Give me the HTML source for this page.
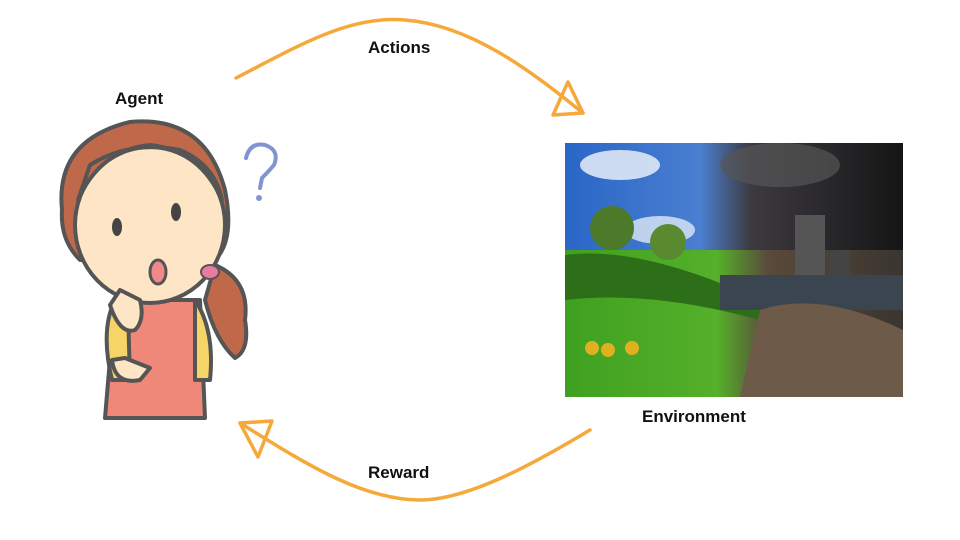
<!DOCTYPE html>
<html><head><meta charset="utf-8"><style>
html,body{margin:0;padding:0;background:#fff;width:960px;height:540px;overflow:hidden;position:relative;font-family:"Liberation Sans",sans-serif}
.l{position:absolute;font-weight:bold;font-size:17px;color:#111}
</style></head><body>
<svg width="960" height="540" style="position:absolute;left:0;top:0">
<defs>
<linearGradient id="sky" x1="0" y1="0" x2="1" y2="0"><stop offset="0" stop-color="#2a66c8"/><stop offset="0.4" stop-color="#4a7fd0"/><stop offset="0.55" stop-color="#3d3a40"/><stop offset="1" stop-color="#151515"/></linearGradient>
<linearGradient id="gnd" x1="0" y1="0" x2="1" y2="0"><stop offset="0" stop-color="#3fa020"/><stop offset="0.45" stop-color="#55b02a"/><stop offset="0.6" stop-color="#5a4a3a"/><stop offset="1" stop-color="#3a3530"/></linearGradient>
</defs>
<!-- environment image -->
<rect x="565" y="143" width="338" height="254" fill="url(#sky)"/>
<ellipse cx="620" cy="165" rx="40" ry="15" fill="#e8eef8" opacity="0.85"/>
<ellipse cx="660" cy="230" rx="35" ry="14" fill="#dfe8f5" opacity="0.8"/>
<ellipse cx="780" cy="165" rx="60" ry="22" fill="#555" opacity="0.7"/>
<rect x="565" y="250" width="338" height="147" fill="url(#gnd)"/>
<path d="M565 255 Q640 245 760 300 L760 320 Q650 290 565 300Z" fill="#2d6e18"/>
<rect x="795" y="215" width="30" height="60" fill="#555"/>
<rect x="830" y="250" width="20" height="25" fill="#444"/>
<rect x="720" y="275" width="183" height="35" fill="#3a4550"/>
<path d="M760 310 Q820 290 903 330 L903 397 L740 397Z" fill="#6e5a48"/>
<circle cx="612" cy="228" r="22" fill="#4c7a2a"/><circle cx="668" cy="242" r="18" fill="#5a8a30"/>
<circle cx="592" cy="348" r="7" fill="#e0b020"/><circle cx="608" cy="350" r="7" fill="#e0b020"/><circle cx="632" cy="348" r="7" fill="#e0b020"/>
<!-- arrows -->
<g fill="none" stroke="#f5a93a" stroke-width="3.5" stroke-linecap="round" stroke-linejoin="round">
<path d="M236 78 C300 45 350 15 405 20 C470 25 530 70 583 113"/>
<path d="M568 82 L583 113 L553 115 Z"/>
<path d="M590 430 C540 460 470 500 420 500 C360 500 300 460 240 423"/>
<path d="M240 423 L272 421 L258 457 Z"/>
</g>
<!-- agent -->
<g stroke="#555" stroke-width="4" stroke-linejoin="round">
<path d="M115 300 L105 418 L205 418 L200 300 Z" fill="#f0887a"/>
<path d="M115 300 Q100 330 112 380 L130 380 L128 310Z" fill="#f7d468"/>
<path d="M195 300 Q215 330 210 380 L195 380 Z" fill="#f7d468"/>
<path d="M215 265 Q250 280 245 320 Q250 350 235 358 Q215 340 205 300 Z" fill="#c0694a"/>
<path d="M62 210 Q55 140 130 122 Q205 115 225 190 Q235 240 215 260 L80 260 Q60 240 62 210 Z" fill="#c0694a"/>
<ellipse cx="150" cy="225" rx="75" ry="78" fill="#fde5c5"/>
<path d="M78 200 Q100 150 150 145 Q200 150 222 200 Q215 165 180 150 Q130 140 90 165 Z" fill="#c0694a"/>
<path d="M120 290 L110 305 Q120 335 135 330 Q145 320 140 300 Z" fill="#fde5c5"/>
<path d="M112 360 Q115 385 140 380 L150 368 L125 358 Z" fill="#fde5c5"/>
</g>
<ellipse cx="117" cy="227" rx="5" ry="9" fill="#444"/><ellipse cx="176" cy="212" rx="5" ry="9" fill="#444"/>
<ellipse cx="158" cy="272" rx="8" ry="12" fill="#f08a8a" stroke="#555" stroke-width="3"/>
<ellipse cx="210" cy="272" rx="9" ry="7" fill="#e87ca0" stroke="#555" stroke-width="2"/>
<path d="M246 158 Q250 142 265 145 Q280 150 274 165 Q268 172 262 178 L260 188" fill="none" stroke="#7f94d0" stroke-width="4" stroke-linecap="round"/>
<circle cx="259" cy="198" r="3" fill="#7f94d0"/>
</svg>
<div class="l" style="left:368px;top:38px">Actions</div>
<div class="l" style="left:115px;top:89px">Agent</div>
<div class="l" style="left:642px;top:407px">Environment</div>
<div class="l" style="left:368px;top:463px">Reward</div>
</body></html>
